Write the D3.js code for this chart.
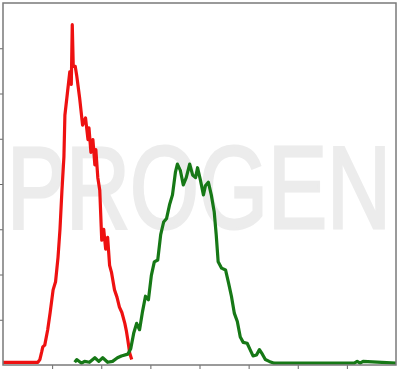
<!DOCTYPE html>
<meta charset="utf-8">
<style>
    body { margin: 0; background: #fff; }
    .frame { fill: none; stroke: #7a7a7a; stroke-width: 1.5; }
    .axis path { display: none; }
    .axis line { stroke: #666; }
    .trace { fill: none; stroke-width: 3.2; stroke-linejoin: round; }
    .watermark { fill: #ececec; stroke: #ececec; stroke-width: 3; font-family: "Liberation Sans", Arial, sans-serif; }
</style>
<body>
  <svg id="svgcontainer" width="398" height="372"></svg>
  <script src="https://d3js.org/d3.v7.min.js"></script>
  <script type="text/javascript">
    // fluorescence channel (x) and event counts (y)
    var redChannel = [0, 71, 75, 79, 81, 85, 91, 96, 102, 107, 112, 116, 120, 124, 126, 131, 136, 139, 141, 143, 147, 150,
      156, 162, 168, 173, 175, 179, 183, 187, 189, 193, 197, 201, 205, 209, 213, 217, 221, 227, 232, 237, 242, 248, 251, 254, 258, 262];
    var redCount = [3, 3, 6, 15, 20, 22, 39, 58, 83, 92, 119, 150, 193, 230, 276, 300, 324, 310, 376, 330, 330, 320,
      295, 265, 273, 249, 262, 235, 249, 221, 238, 207, 193, 138, 150, 128, 141, 110, 102, 83, 75, 64, 58, 46, 38, 28, 13, 6];

    var greenChannel = [146, 150, 160, 166, 176, 187, 195, 203, 213, 223, 233, 241, 254, 260, 266, 272, 278, 284, 290, 296,
      302, 308, 315, 321, 327, 333, 339, 345, 351, 355, 361, 367, 373, 380, 386, 392, 396, 402, 408, 412, 418, 424, 430,
      434, 438, 445, 453, 459, 465, 471, 477, 483, 489, 497, 503, 509, 516, 522, 528, 534, 542, 552, 566, 715, 721, 727, 733, 800];
    var greenCount = [3, 6, 2, 4, 3, 8, 4, 8, 3, 4, 8, 10, 12, 18, 35, 46, 39, 59, 76, 72,
      99, 114, 116, 144, 158, 162, 177, 188, 213, 222, 215, 199, 207, 222, 210, 207, 218, 204, 188, 198, 202, 188, 169,
      144, 114, 107, 105, 91, 76, 57, 48, 31, 25, 24, 17, 10, 11, 17, 12, 6, 4, 2, 2, 2, 4, 2, 4, 2];

    var xTicks = [100, 200, 300, 400, 500, 600, 700];
    var yTicks = [50, 100, 150, 200, 250, 300, 350];
    var watermarkText = "PROGEN";

    var svg = d3.select("#svgcontainer"),
      margin = {top: 3, right: 2, bottom: 7, left: 3},
      width = +svg.attr("width") - margin.left - margin.right,
      height = +svg.attr("height") - margin.top - margin.bottom;

    var g = svg.append("g")
      .attr("transform", "translate(" + margin.left + "," + margin.top + ")");

    var x = d3.scaleLinear().domain([0, 800]).range([0, width]);
    var y = d3.scaleLinear().domain([0, 400]).range([height, 0]);

    // watermark, squeezed horizontally to span the plot
    var wm = g.append("text")
      .attr("class", "watermark")
      .attr("font-size", 117)
      .text(watermarkText);
    var sx = 384 / wm.node().getComputedTextLength();
    wm.attr("transform", "translate(4,225) scale(" + sx + ",1)");

    g.append("g")
      .attr("class", "axis")
      .attr("transform", "translate(0," + height + ")")
      .call(d3.axisBottom(x).tickValues(xTicks).tickSize(4).tickFormat(""));

    g.append("g")
      .attr("class", "axis")
      .call(d3.axisLeft(y).tickValues(yTicks).tickSize(3).tickFormat(""));

    var line = d3.line()
      .x(function (d) { return x(d[0]); })
      .y(function (d) { return y(d[1]); });

    g.append("path")
      .datum(d3.zip(redChannel, redCount))
      .attr("class", "trace")
      .attr("stroke", "#ee1111")
      .attr("d", line);

    g.append("path")
      .datum(d3.zip(greenChannel, greenCount))
      .attr("class", "trace")
      .attr("stroke", "#167816")
      .attr("d", line);

    g.append("rect")
      .attr("class", "frame")
      .attr("width", width)
      .attr("height", height);
  </script>
</body>
